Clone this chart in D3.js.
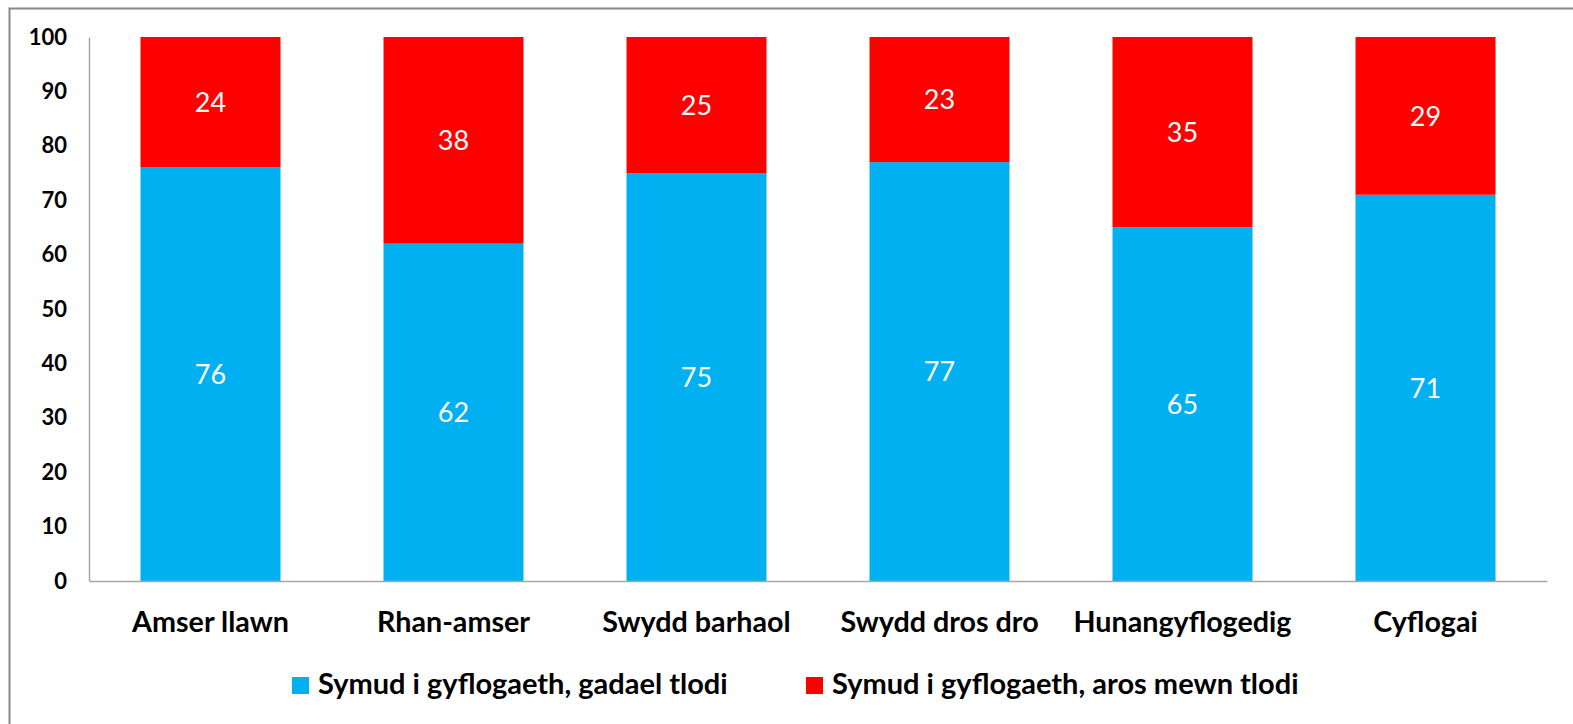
<!DOCTYPE html>
<html>
<head>
<meta charset="utf-8">
<script src="https://cdn.jsdelivr.net/npm/d3@7"></script>
<style>
  body { margin: 0; background: #fff; }
  svg { display: block; font-family: Lato, "Open Sans", sans-serif; }
</style>
</head>
<body>
<div class="chart"></div>
<script>
// Data
const categories = ["Amser llawn", "Rhan-amser", "Swydd barhaol", "Swydd dros dro", "Hunangyflogedig", "Cyflogai"];
const leaveValues = [76, 62, 75, 77, 65, 71];
const stayValues = [24, 38, 25, 23, 35, 29];
const seriesNames = ["Symud i gyflogaeth, gadael tlodi", "Symud i gyflogaeth, aros mewn tlodi"];
const seriesColors = ["#00B0F0", "#FF0000"];
const yTicks = [0, 10, 20, 30, 40, 50, 60, 70, 80, 90, 100];

const width = 1573, height = 724;
const margin = { top: 37, right: 26, bottom: 143, left: 89 };

const svg = d3.select(".chart")
    .append("svg")
    .attr("width", width)
    .attr("height", height);

// Outer chart frame
svg.append("rect")
    .attr("x", 9.5)
    .attr("y", 8.5)
    .attr("width", width)
    .attr("height", height)
    .attr("fill", "none")
    .attr("stroke", "#888")
    .attr("stroke-width", 2);

const xScale = d3.scaleBand()
    .domain(categories)
    .range([margin.left, width - margin.right])
    .paddingInner(0.424)
    .paddingOuter(0.212);

const yScale = d3.scaleLinear()
    .domain([0, 100])
    .range([height - margin.bottom, margin.top]);

// Stack the two series
const rows = categories.map((c, i) => ({ cat: c, leave: leaveValues[i], stay: stayValues[i] }));
const stacked = d3.stack().keys(["leave", "stay"])(rows);

const groups = svg.selectAll(".series")
    .data(stacked)
    .enter()
    .append("g")
    .attr("class", "series")
    .attr("fill", (d, i) => seriesColors[i]);

groups.selectAll("rect")
    .data(d => d)
    .enter()
    .append("rect")
    .attr("x", d => xScale(d.data.cat))
    .attr("y", d => yScale(d[1]))
    .attr("width", xScale.bandwidth())
    .attr("height", d => yScale(d[0]) - yScale(d[1]));

// Value labels inside the segments
groups.selectAll("text")
    .data(d => d)
    .enter()
    .append("text")
    .attr("x", d => xScale(d.data.cat) + xScale.bandwidth() / 2)
    .attr("y", d => (yScale(d[0]) + yScale(d[1])) / 2)
    .attr("dy", "0.36em")
    .attr("text-anchor", "middle")
    .attr("fill", "#fff")
    .style("font-size", "27px")
    .text(d => d[1] - d[0]);

// y axis
const yAxis = svg.append("g")
    .attr("transform", `translate(${margin.left},0)`)
    .call(d3.axisLeft(yScale).tickValues(yTicks).tickSize(0).tickPadding(22));
yAxis.select(".domain").attr("stroke", "#a6a6a6").attr("stroke-width", 1.5);
yAxis.selectAll("text")
    .style("font-size", "22px")
    .style("font-weight", "bold")
    .style("font-family", "Lato, sans-serif")
    .attr("fill", "#000");

// x axis
const xAxis = svg.append("g")
    .attr("transform", `translate(0,${height - margin.bottom})`)
    .call(d3.axisBottom(xScale).tickSize(0).tickPadding(31));
xAxis.select(".domain").attr("stroke", "#a6a6a6").attr("stroke-width", 1.5);
xAxis.selectAll("text")
    .style("font-size", "28.7px")
    .style("font-weight", "bold")
    .style("font-family", "Lato, sans-serif")
    .attr("fill", "#000");

// Legend
const legendX = [292, 806];
const legend = svg.selectAll(".legend")
    .data(seriesNames)
    .enter()
    .append("g")
    .attr("class", "legend")
    .attr("transform", (d, i) => `translate(${legendX[i]},677)`);

legend.append("rect")
    .attr("width", 17)
    .attr("height", 17)
    .attr("fill", (d, i) => seriesColors[i]);

legend.append("text")
    .attr("x", 26)
    .attr("y", 17)
    .style("font-size", "29px")
    .style("font-weight", "bold")
    .text(d => d);
</script>
</body>
</html>
